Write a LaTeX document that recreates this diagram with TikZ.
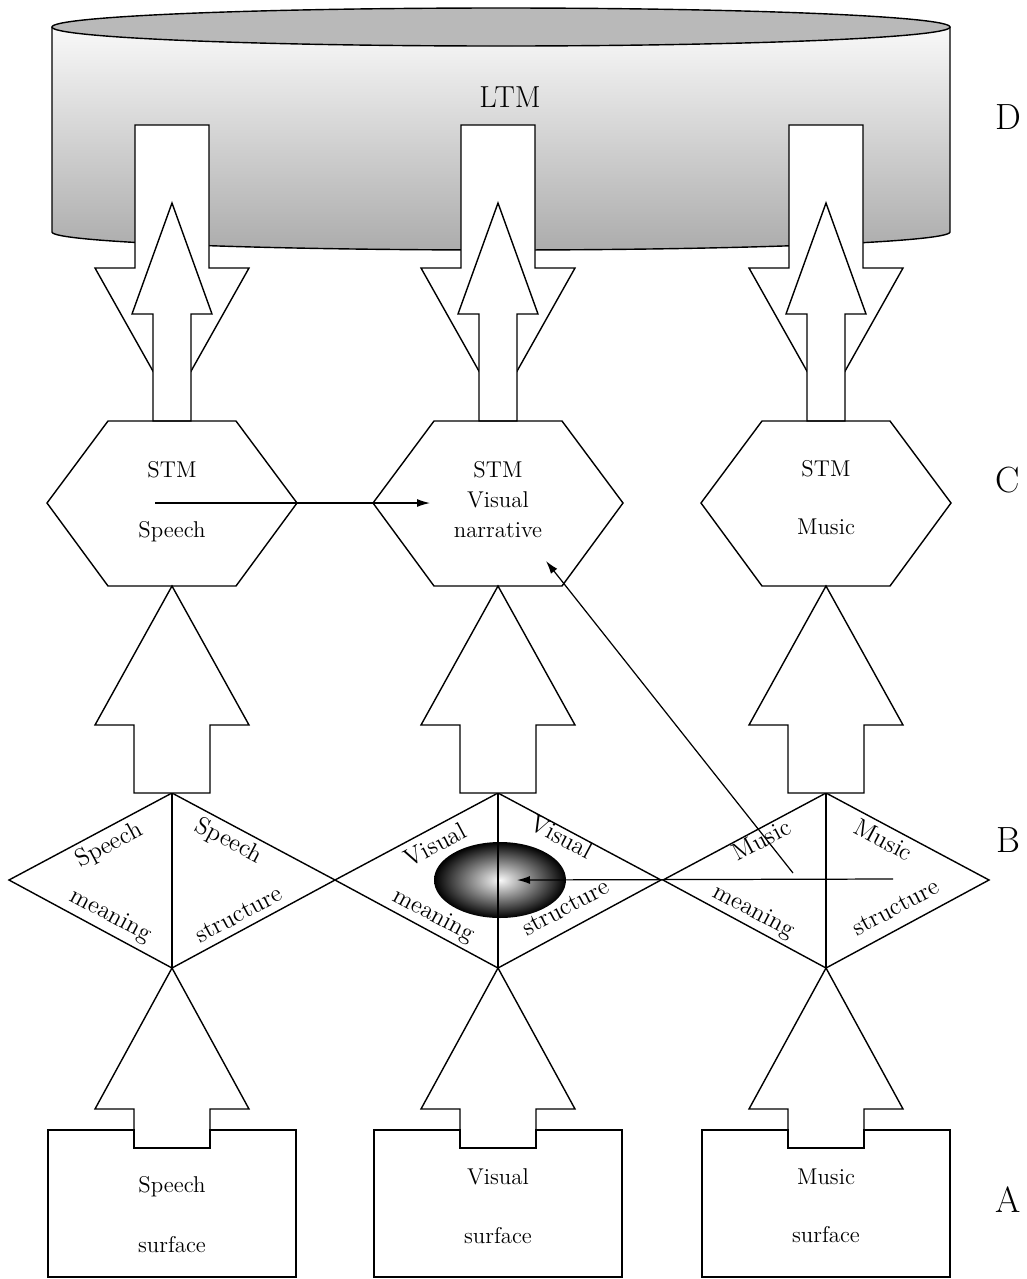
\documentclass[tikz,border=0pt]{standalone}
\usetikzlibrary{arrows.meta,shapes.geometric}
\begin{document}
\begin{tikzpicture}
[x=0.02cm,y=-0.02cm,
  blockdecorate/.style={draw,fill=white,line width=0.8pt},
  shapedecorate/.style={draw,line width=0.8pt},
  textdecorate/.style={font=\fontsize{13}{15}\selectfont,inner sep=1pt,
    text height=1.6ex,text depth=0.4ex},
  sidedecorate/.style={font=\huge},
  linedecorate/.style={-{Latex[length=2.6mm,width=1.6mm]},line width=0.7pt}]
\useasboundingbox (0,0) rectangle (1027,1279);
%% LTM store
\shade[top color=gray!5,middle color=gray!35,bottom color=gray!65]
  (52,27) -- (52,232) arc[start angle=180,end angle=0,x radius=449,y radius=18]
  -- (950,27) -- cycle;
\draw[shapedecorate] (52,27) -- (52,232)
  arc[start angle=180,end angle=0,x radius=449,y radius=18] -- (950,27);
\draw[shapedecorate,fill=gray!55] (501,27) ellipse[x radius=449,y radius=19];
\node (ltm) at (510,97) [font=\LARGE] {LTM};
%% arrows between LTM and STM
\foreach \c in {172,498,826} {
  \draw[blockdecorate] (\c-37,125) -- (\c-37,268) -- (\c-77,268) -- (\c,405)
    -- (\c+77,268) -- (\c+37,268) -- (\c+37,125) -- cycle;
  \draw[blockdecorate] (\c,203) -- (\c+40,314) -- (\c+19,314) -- (\c+19,421)
    -- (\c-19,421) -- (\c-19,314) -- (\c-40,314) -- cycle;
}
%% STM stores
\foreach \c in {172,498,826} {
  \draw[shapedecorate] (\c-64,421) -- (\c+64,421) -- (\c+125,503)
    -- (\c+64,586) -- (\c-64,586) -- (\c-125,503) -- cycle;
}
\foreach \nodename/\x/\y/\text in {stmsp/172/473/STM, stmspb/172/533/Speech,
  stmvn/498/473/STM, stmvnb/498/503/Visual, stmvnc/498/533/narrative,
  stmmu/826/472/STM, stmmub/826/530/Music} {
  \node (\nodename) at (\x,\y) [textdecorate] {\text};
}
%% meaning and structure analyses
\foreach \c in {172,498,826} {
  \draw[shapedecorate] (\c,793) -- (\c+163,880) -- (\c,968) -- (\c-163,880) -- cycle;
  \draw[blockdecorate] (\c,586) -- (\c+77,725) -- (\c+38,725) -- (\c+38,793)
    -- (\c-38,793) -- (\c-38,725) -- (\c-77,725) -- cycle;
}
\node (blob) at (500,880) [ellipse,minimum width=2.64cm,minimum height=1.52cm,
  inner color=gray!5,outer color=black] {};
\foreach \c in {172,498,826}
  \draw[shapedecorate] (\c,793) -- (\c,968);
\foreach \nodename/\x/\y/\r/\text in {spmean/110/847/28/Speech,
  spmeanb/110/917/-28/meaning, spstruct/228/843/-28/Speech,
  spstructb/240/917/28/structure, vimean/437/848/28/Visual,
  vimeanb/433/917/-28/meaning, vistruct/560/840/-28/Visual,
  vistructb/567/910/28/structure, mumean/763/843/28/Music,
  mumeanb/753/913/-28/meaning, mustruct/882/843/-28/Music,
  mustructb/897/910/28/structure} {
  \node (\nodename) at (\x,\y) [textdecorate,font=\fontsize{14}{16}\selectfont,
    rotate=\r] {\text};
}
%% surface inputs
\foreach \c in {172,498,826} {
  \draw[shapedecorate] (\c-124,1277) -- (\c-124,1130) -- (\c-38,1130) -- (\c-38,1148)
    -- (\c+38,1148) -- (\c+38,1130) -- (\c+124,1130) -- (\c+124,1277) -- cycle;
  \draw[shapedecorate] (\c-38,1130) -- (\c-38,1109) -- (\c-77,1109) -- (\c,968)
    -- (\c+77,1109) -- (\c+38,1109) -- (\c+38,1130);
}
\foreach \nodename/\x/\y/\text in {spsurf/172/1188/Speech, spsurfb/172/1248/surface,
  visurf/498/1180/Visual, visurfb/498/1239/surface,
  musurf/826/1180/Music, musurfb/826/1238/surface} {
  \node (\nodename) at (\x,\y) [textdecorate] {\text};
}
%% links between the streams
\coordinate (spout) at (155,503);
\coordinate (vnin) at (430,503);
\coordinate (muout) at (793,873);
\coordinate (vnback) at (546,561);
\coordinate (msout) at (893,879);
\coordinate (blobin) at (517,880);
\draw[linedecorate] (spout) -- (vnin);
\draw[linedecorate] (muout) -- (vnback);
\draw[linedecorate] (msout) -- (blobin);
%% levels
\foreach \nodename/\y in {D/117, C/480, B/840, A/1200} {
  \node (level\nodename) at (1008,\y) [sidedecorate] {\nodename};
}
\end{tikzpicture}
\end{document}
